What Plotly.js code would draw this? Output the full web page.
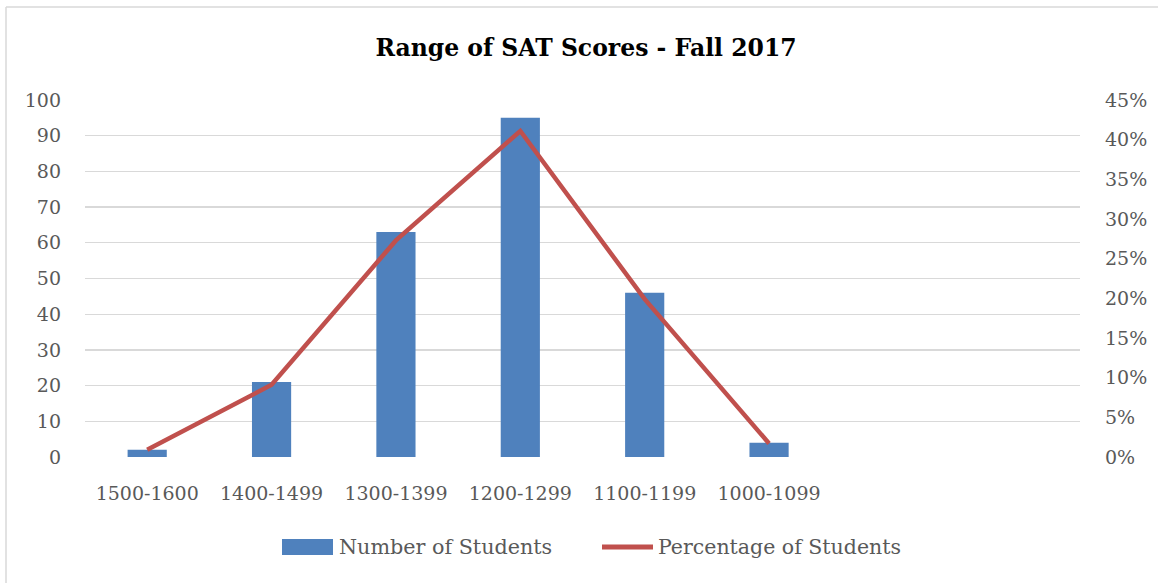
<!DOCTYPE html>
<html>
<head>
<meta charset="utf-8">
<script src="https://cdn.plot.ly/plotly-3.0.1.min.js"></script>
<style>html,body{margin:0;padding:0;background:#fff;}#chart{width:1158px;height:583px;}</style>
</head>
<body>
<div id="chart"></div>
<script>
const categories = ["1500-1600", "1400-1499", "1300-1399", "1200-1299", "1100-1199", "1000-1099"];
const numberOfStudents = [2, 21, 63, 95, 46, 4];
const percentageOfStudents = [0.009, 0.091, 0.273, 0.411, 0.199, 0.017];
const seriesNames = ["Number of Students", "Percentage of Students"];
const slotCount = 8;

const xIdx = categories.map((_, i) => i);
const FONT = "DejaVu Serif, Liberation Serif, serif";
const GREY = "#595959";
const BLUE = "#4f81bd";
const RED = "#c0504d";

// plot area geometry (pixels)
const L = 85, R = 78, T = 100, B = 126, W = 1158, H = 583;
const PW = W - L - R, PH = H - T - B;
const px = v => (v - L) / PW;          // page x pixel -> paper x
const py = v => (H - B - v) / PH;      // page y pixel -> paper y

const traces = [
  {
    type: "bar", name: seriesNames[0], x: xIdx, y: numberOfStudents,
    marker: {color: BLUE}, width: 0.315, yaxis: "y", showlegend: false
  },
  {
    type: "scatter", mode: "lines", name: seriesNames[1], x: xIdx, y: percentageOfStudents,
    line: {color: RED, width: 4.5}, yaxis: "y2", showlegend: false
  }
];

const layout = {
  width: W, height: H,
  paper_bgcolor: "#fff", plot_bgcolor: "#fff",
  margin: {l: L, r: R, t: T, b: B},
  font: {family: FONT, color: GREY, size: 19},
  title: {text: "<b>Range of SAT Scores - Fall 2017</b>", font: {family: FONT, size: 23.5, color: "#000"}, x: 586 / W, xanchor: "center", y: 1 - 48 / H, yanchor: "middle"},
  showlegend: false,
  xaxis: {
    range: [-0.5, slotCount - 0.5], tickvals: xIdx, ticktext: categories,
    showgrid: false, zeroline: false, showline: false, ticks: "",
    ticklabelstandoff: 23, tickfont: {size: 19, color: GREY}, fixedrange: true
  },
  yaxis: {
    range: [0, 100], dtick: 10, tick0: 0, showgrid: true, gridcolor: "#d9d9d9", gridwidth: 1.3,
    zeroline: false, showline: false, ticks: "", ticklabelstandoff: 23, tickfont: {size: 19, color: GREY}
  },
  yaxis2: {
    range: [0, 0.45], dtick: 0.05, tick0: 0, overlaying: "y", side: "right", tickformat: ".0%",
    showgrid: false, zeroline: false, showline: false, ticks: "", ticklabelstandoff: 24, tickfont: {size: 19, color: GREY}
  },
  shapes: [
    // chart border (top and left visible)
    {type: "line", xref: "paper", yref: "paper", x0: px(6), x1: px(1158), y0: py(7), y1: py(7), line: {color: "#d9d9d9", width: 1.5}},
    {type: "line", xref: "paper", yref: "paper", x0: px(6), x1: px(6), y0: py(7), y1: py(583), line: {color: "#d9d9d9", width: 1.5}},
    // legend swatches
    {type: "rect", xref: "paper", yref: "paper", x0: px(282), x1: px(333), y0: py(539), y1: py(555), fillcolor: BLUE, line: {width: 0}},
    {type: "line", xref: "paper", yref: "paper", x0: px(602), x1: px(653), y0: py(547), y1: py(547), line: {color: RED, width: 5}}
  ],
  annotations: [
    {xref: "paper", yref: "paper", x: px(337), y: py(547), xanchor: "left", yanchor: "middle", text: seriesNames[0], showarrow: false, font: {size: 20.7, color: GREY}},
    {xref: "paper", yref: "paper", x: px(656), y: py(547), xanchor: "left", yanchor: "middle", text: seriesNames[1], showarrow: false, font: {size: 20.5, color: GREY}}
  ]
};

Plotly.newPlot("chart", traces, layout, {displayModeBar: false, staticPlot: true});
</script>
</body>
</html>
